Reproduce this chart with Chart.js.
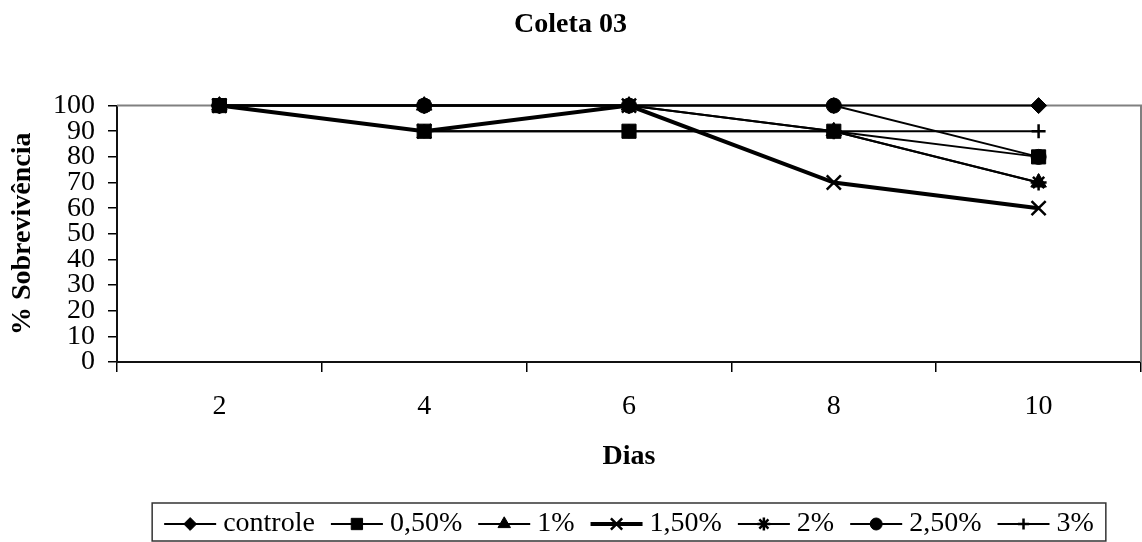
<!DOCTYPE html>
<html>
<head>
<meta charset="utf-8">
<title>Coleta 03</title>
<script src="https://cdn.jsdelivr.net/npm/chart.js@4/dist/chart.umd.min.js"></script>
<style>
    html, body { margin: 0; padding: 0; background: #fff; }
    #grafico { display: block; }
</style>
</head>
<body>
<canvas id="grafico" width="1142" height="542"></canvas>
<script>
// Dias de coleta (eixo x)
var dias = ["2", "4", "6", "8", "10"];

// % de sobrevivência por concentração
var controle = [100, 100, 100, 100, 100];
var conc050 = [100, 90, 90, 90, 80];
var conc1 = [100, 100, 100, 90, 70];
var conc150 = [100, 90, 100, 70, 60];
var conc2 = [100, 100, 100, 90, 70];
var conc250 = [100, 100, 100, 100, 80];
var conc3 = [100, 90, 90, 90, 90];

var nomesSeries = ["controle", "0,50%", "1%", "1,50%", "2%", "2,50%", "3%"];
var valoresSeries = [controle, conc050, conc1, conc150, conc2, conc250, conc3];
var marcadores = ["rectRot", "rect", "triangle", "crossRot", "star", "circle", "cross"];
var raios = [8, 10, 9, 10, 8, 7.5, 7];
var espessuras = [2, 2, 2, 4, 2, 2, 2];

var fonte = "'Liberation Serif', 'Times New Roman', serif";
var tamFonte = 28;

// Monta os datasets a partir das listas acima
function montarDatasets() {
    var datasets = [];
    for (var i = 0; i < nomesSeries.length; i++) {
        var cruz = marcadores[i] === "crossRot" || marcadores[i] === "cross" || marcadores[i] === "star";
        datasets.push({
            label: nomesSeries[i],
            data: valoresSeries[i],
            borderColor: "#000",
            backgroundColor: "#000",
            borderWidth: espessuras[i],
            pointStyle: marcadores[i],
            pointRadius: raios[i],
            pointHoverRadius: raios[i],
            pointBorderWidth: cruz ? 2.5 : 1,
            pointBorderColor: "#000",
            pointBackgroundColor: "#000",
            tension: 0,
            clip: false
        });
    }
    return datasets;
}

// Moldura cinza da área de plotagem (topo e direita)
var molduraPlot = {
    id: "molduraPlot",
    beforeDatasetsDraw: function (chart) {
        var ctx = chart.ctx;
        var a = chart.chartArea;
        ctx.save();
        ctx.strokeStyle = "#808080";
        ctx.lineWidth = 2;
        ctx.beginPath();
        ctx.moveTo(a.left, a.top);
        ctx.lineTo(a.right, a.top);
        ctx.lineTo(a.right, a.bottom);
        ctx.stroke();
        ctx.restore();
    }
};

// Legenda em caixa, com linha + marcador de cada série
var legendaCaixa = {
    id: "legendaCaixa",
    afterDraw: function (chart) {
        var ctx = chart.ctx;
        var linha = 52, gapTexto = 7, gapItem = 16, margem = 12;
        var topo = 503, altura = 38;
        var a = chart.chartArea;
        ctx.save();
        ctx.font = tamFonte + "px " + fonte;
        ctx.textBaseline = "middle";

        var total = 0;
        var larguras = [];
        for (var i = 0; i < nomesSeries.length; i++) {
            larguras[i] = ctx.measureText(nomesSeries[i]).width;
            total += linha + gapTexto + larguras[i];
        }
        total += gapItem * (nomesSeries.length - 1);
        var larguraCaixa = total + margem * 2;
        var esquerda = (a.left + a.right) / 2 - larguraCaixa / 2;

        ctx.strokeStyle = "#333";
        ctx.lineWidth = 1.5;
        ctx.strokeRect(esquerda, topo, larguraCaixa, altura);

        var x = esquerda + margem;
        var y = topo + altura / 2 + 2;
        var ds = chart.data.datasets;
        for (var j = 0; j < ds.length; j++) {
            ctx.strokeStyle = "#000";
            ctx.lineWidth = ds[j].borderWidth;
            ctx.beginPath();
            ctx.moveTo(x, y);
            ctx.lineTo(x + linha, y);
            ctx.stroke();
            ctx.fillStyle = "#000";
            ctx.lineWidth = ds[j].pointBorderWidth;
            Chart.helpers.drawPoint(ctx, {
                pointStyle: ds[j].pointStyle,
                radius: ds[j].pointRadius * 0.8,
                rotation: 0,
                borderWidth: ds[j].pointBorderWidth
            }, x + linha / 2, y);
            ctx.fillStyle = "#000";
            ctx.fillText(nomesSeries[j], x + linha + gapTexto, y);
            x += linha + gapTexto + larguras[j] + gapItem;
        }
        ctx.restore();
    }
};

var grafico = new Chart(document.getElementById("grafico"), {
    type: "line",
    data: {
        labels: dias,
        datasets: montarDatasets()
    },
    options: {
        responsive: false,
        animation: false,
        events: [],
        layout: {
            autoPadding: false,
            padding: { top: 0, left: 0, right: 1, bottom: 62 }
        },
        plugins: {
            legend: { display: false },
            tooltip: { enabled: false },
            title: {
                display: true,
                text: "Coleta 03",
                color: "#000",
                font: { family: fonte, size: tamFonte, weight: "bold" },
                padding: { top: 8, bottom: 64 }
            }
        },
        scales: {
            x: {
                offset: true,
                grid: {
                    offset: true,
                    drawOnChartArea: false,
                    color: "#000",
                    tickLength: 10,
                    lineWidth: 1.5
                },
                border: { color: "#111", width: 2 },
                ticks: {
                    color: "#000",
                    font: { family: fonte, size: tamFonte },
                    padding: 18,
                    maxRotation: 0
                },
                title: {
                    display: true,
                    text: "Dias",
                    color: "#000",
                    font: { family: fonte, size: tamFonte, weight: "bold" },
                    padding: { top: 0, bottom: 6 }
                },
                afterFit: function (escala) {
                    escala.height = 118;
                    escala.paddingLeft = 0;
                    escala.paddingRight = 0;
                }
            },
            y: {
                min: 0,
                max: 100,
                grid: {
                    drawOnChartArea: false,
                    color: "#000",
                    tickLength: 9,
                    lineWidth: 1.5
                },
                border: { color: "#111", width: 2 },
                ticks: {
                    stepSize: 10,
                    autoSkip: false,
                    color: "#000",
                    font: { family: fonte, size: tamFonte },
                    padding: 13
                },
                title: {
                    display: true,
                    text: "% Sobrevivência",
                    color: "#000",
                    font: { family: fonte, size: tamFonte, weight: "bold" },
                    padding: { top: 6, bottom: 0 }
                },
                afterFit: function (escala) {
                    escala.width = 117;
                    escala.paddingTop = 0;
                    escala.paddingBottom = 0;
                }
            }
        }
    },
    plugins: [molduraPlot, legendaCaixa]
});
</script>
</body>
</html>
